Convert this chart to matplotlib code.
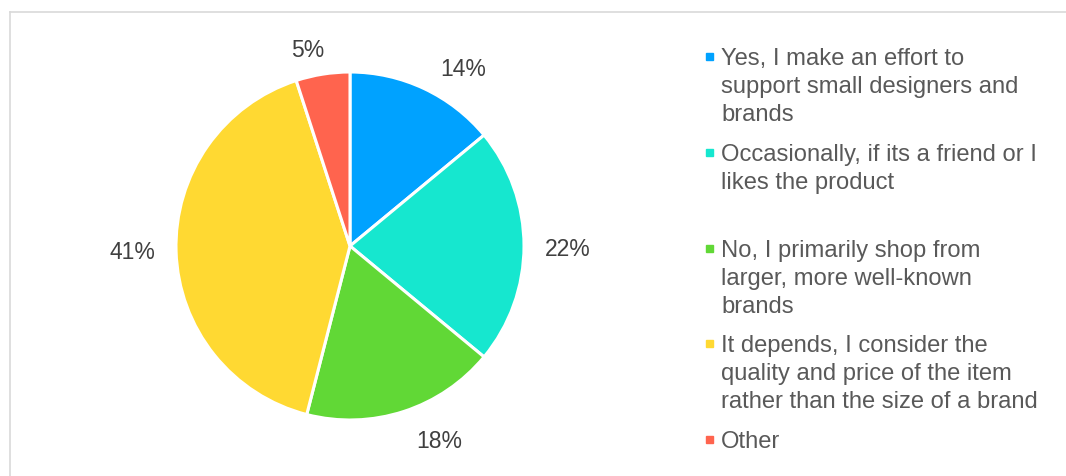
import matplotlib.pyplot as plt
import numpy as np

plt.rcParams['font.family'] = ['Liberation Sans', 'DejaVu Sans']

answers = [
    "Yes, I make an effort to\nsupport small designers and\nbrands",
    "Occasionally, if its a friend or I\nlikes the product",
    "No, I primarily shop from\nlarger, more well-known\nbrands",
    "It depends, I consider the\nquality and price of the item\nrather than the size of a brand",
    "Other",
]
shares = [14, 22, 18, 41, 5]
colors = ["#00A2FF", "#16E7CF", "#61D836", "#FFD932", "#FF644E"]

# label placement: nudge in degrees from the slice middle, and radius
label_shift = [-7, 0, 7, -1, 3]
label_radius = [1.22, 1.25, 1.22, 1.25, 1.17]

W, H = 1066, 477
fig = plt.figure(figsize=(W / 100, H / 100), dpi=100)

# chart frame
frame = fig.add_axes([10 / W, -0.1, 1.2, 1 - 13 / H + 0.1])
frame.set_xticks([])
frame.set_yticks([])
for side in frame.spines.values():
    side.set_color("#D9D9D9")
    side.set_linewidth(1.2)
frame.patch.set_alpha(0)

cx, cy, r = 350, 247, 174
ax = fig.add_axes([(cx - r) / W, (H - cy - r) / H, 2 * r / W, 2 * r / H])
wedges, _ = ax.pie(shares, colors=colors, startangle=90, counterclock=False,
                   radius=1, wedgeprops=dict(edgecolor="white", linewidth=2.2))
ax.set_xlim(-1, 1)
ax.set_ylim(-1, 1)
ax.set_aspect("auto")
ax.axis("off")

for w, v, d, rr in zip(wedges, shares, label_shift, label_radius):
    mid = np.deg2rad((w.theta1 + w.theta2) / 2 + d)
    ax.text(rr * np.cos(mid), rr * np.sin(mid) - 0.05, f"{v}%", ha="center",
            va="baseline", fontsize=16.5, color="#404040", clip_on=False)

# legend drawn line by line with square markers (first-line baselines in px)
legend_base = [65, 161, 257, 352, 448]
line_gap = 28
for txt, c, y in zip(answers, colors, legend_base):
    for i, line in enumerate(txt.split("\n")):
        fig.text(721 / W, 1 - (y + i * line_gap) / H, line, ha="left",
                 va="baseline", fontsize=17.1, color="#595959")
    fig.patches.append(plt.Rectangle((706 / W, 1 - (y - 4) / H), 7 / W, 7 / H,
                                     transform=fig.transFigure, color=c))

fig.savefig("out.png", dpi=100)
